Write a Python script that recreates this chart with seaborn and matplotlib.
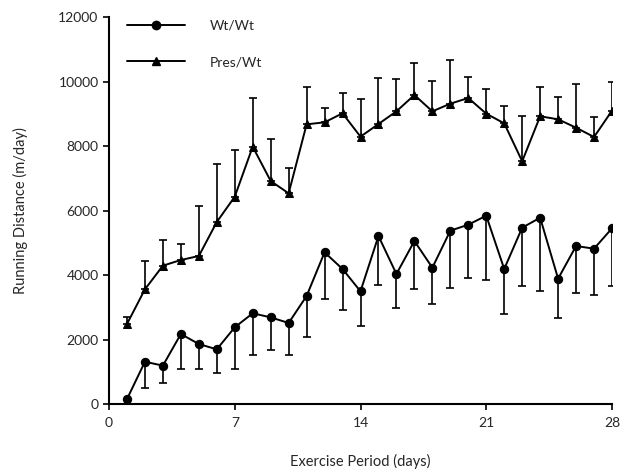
import numpy as np
import pandas as pd
import matplotlib
matplotlib.use("Agg")
import matplotlib.pyplot as plt
import seaborn as sns
from matplotlib.lines import Line2D

days = list(range(1, 29))
wt_mean = [150, 1310, 1190, 2170, 1860, 1695, 2378, 2812, 2687, 2512, 3349, 4703, 4186, 3494,
           5209, 4031, 5054, 4227, 5374, 5560, 5839, 4186, 5467, 5777, 3886, 4899, 4816, 5447]
wt_low = [150, 485, 640, 1085, 1085, 970, 1085, 1519, 1674, 1519, 2088, 3256, 2905, 2429,
          3690, 2966, 3556, 3101, 3607, 3907, 3845, 2800, 3659, 3504, 2657, 3452, 3390, 3669]
pres_mean = [2480, 3556, 4289, 4465, 4589, 5643, 6428, 7979, 6915, 6532, 8672, 8734, 9014, 8289,
             8682, 9075, 9581, 9075, 9312, 9488, 9002, 8703, 7525, 8921, 8828, 8568, 8279, 9095]
pres_high = [2687, 4434, 5095, 4951, 6129, 7432, 7886, 9498, 8227, 7328, 9820, 9178, 9643, 9447,
             10118, 10067, 10583, 10015, 10667, 10149, 9777, 9240, 8940, 9830, 9510, 9932, 8909, 9984]
series_names = ["Wt/Wt", "Pres/Wt"]
x_ticks = [0, 7, 14, 21, 28]
y_ticks = [0, 2000, 4000, 6000, 8000, 10000, 12000]

sns.set_style("ticks")
plt.rcParams['font.family'] = ['Lato', 'DejaVu Sans']

df = pd.DataFrame({
    "day": days * 2,
    "dist": wt_mean + pres_mean,
    "group": [series_names[0]] * 28 + [series_names[1]] * 28,
})

fig = plt.figure(figsize=(6.43, 4.73), dpi=100)
ax = fig.add_axes([109/643, 1 - 404/473, (612-109)/643, (404-17)/473])

# error bars (one-sided)
wm = np.array(wt_mean); wl = np.array(wt_low)
pm = np.array(pres_mean); ph = np.array(pres_high)
ax.errorbar(days, wm, yerr=[wm - wl, np.zeros_like(wm)], fmt='none', ecolor='black',
            elinewidth=1.2, capsize=2.6, capthick=1.2, zorder=2)
ax.errorbar(days, pm, yerr=[np.zeros_like(pm), ph - pm], fmt='none', ecolor='black',
            elinewidth=1.2, capsize=2.6, capthick=1.2, zorder=2)

sns.lineplot(data=df, x="day", y="dist", hue="group", style="group",
             palette=["black", "black"], markers={"Wt/Wt": "o", "Pres/Wt": "^"},
             dashes=False, markersize=6, linewidth=1.4, markeredgecolor="black",
             legend=False, ax=ax, zorder=3)

ax.set_xlim(0, 28)
ax.set_ylim(0, 12000)
ax.set_xticks(x_ticks)
ax.set_yticks(y_ticks)
ax.set_xticklabels([str(t) for t in x_ticks], fontsize=10)
ax.set_yticklabels([str(t) for t in y_ticks], fontsize=10)
ax.tick_params(axis='both', direction='out', length=4, width=1.2, color='black')
ax.tick_params(axis='x', pad=5)
for s in ['top', 'right']:
    ax.spines[s].set_visible(False)
for s in ['left', 'bottom']:
    ax.spines[s].set_linewidth(1.5)
    ax.spines[s].set_color('black')

ax.set_xlabel("Exercise Period (days)", fontsize=10.5, labelpad=18)
ax.set_ylabel("Running Distance (m/day)", fontsize=10.5, labelpad=22)

handles = [Line2D([0], [0], color='black', lw=1.4, marker='o', markersize=6),
           Line2D([0], [0], color='black', lw=1.4, marker='^', markersize=6)]
ax.legend(handles, series_names, loc='upper left', bbox_to_anchor=(0.01, 1.025),
          frameon=False, handlelength=4.2, labelspacing=1.75, handletextpad=1.8,
          fontsize=10)

fig.savefig("out.png", dpi=100)
